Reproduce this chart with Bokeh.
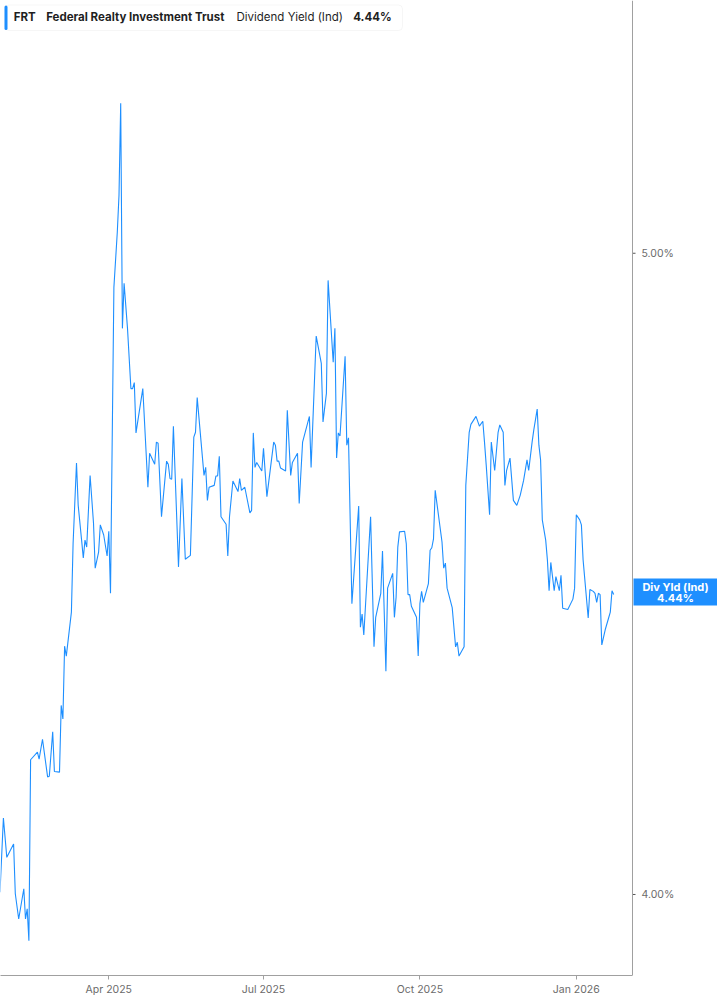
from datetime import datetime
import pandas as pd
from bokeh.plotting import figure
from bokeh.models import Range1d, FixedTicker, Label, BoxAnnotation, ColumnDataSource, Span
from bokeh.core.properties import value
from bokeh.embed import file_html
from bokeh.resources import INLINE

# ---- data ----
dates = [
    "2025-01-27", "2025-01-29", "2025-01-31", "2025-02-04", "2025-02-05", "2025-02-07", "2025-02-10",
    "2025-02-11", "2025-02-12", "2025-02-13", "2025-02-14", "2025-02-18", "2025-02-19", "2025-02-21",
    "2025-02-24", "2025-02-25", "2025-02-27", "2025-02-28", "2025-03-03", "2025-03-04", "2025-03-05",
    "2025-03-06", "2025-03-07", "2025-03-10", "2025-03-11", "2025-03-13", "2025-03-14", "2025-03-16",
    "2025-03-17", "2025-03-18", "2025-03-19", "2025-03-21", "2025-03-23", "2025-03-24", "2025-03-26",
    "2025-03-27", "2025-03-29", "2025-03-31", "2025-04-01", "2025-04-02", "2025-04-04", "2025-04-06",
    "2025-04-07", "2025-04-08", "2025-04-09", "2025-04-10", "2025-04-12", "2025-04-14", "2025-04-15",
    "2025-04-16", "2025-04-17", "2025-04-21", "2025-04-24", "2025-04-25", "2025-04-28", "2025-04-29",
    "2025-04-30", "2025-05-02", "2025-05-05", "2025-05-06", "2025-05-07", "2025-05-08", "2025-05-09",
    "2025-05-12", "2025-05-14", "2025-05-16", "2025-05-19", "2025-05-21", "2025-05-22", "2025-05-23",
    "2025-05-27", "2025-05-28", "2025-05-29", "2025-05-30", "2025-06-02", "2025-06-03", "2025-06-04",
    "2025-06-05", "2025-06-06", "2025-06-09", "2025-06-10", "2025-06-11", "2025-06-13", "2025-06-16",
    "2025-06-17", "2025-06-18", "2025-06-20", "2025-06-23", "2025-06-24", "2025-06-25", "2025-06-26",
    "2025-06-27", "2025-06-30", "2025-07-01", "2025-07-03", "2025-07-07", "2025-07-08", "2025-07-09",
    "2025-07-10", "2025-07-11", "2025-07-14", "2025-07-15", "2025-07-17", "2025-07-18", "2025-07-21",
    "2025-07-22", "2025-07-24", "2025-07-28", "2025-07-29", "2025-08-01", "2025-08-04", "2025-08-05",
    "2025-08-07", "2025-08-08", "2025-08-11", "2025-08-12", "2025-08-13", "2025-08-14", "2025-08-15",
    "2025-08-18", "2025-08-19", "2025-08-20", "2025-08-22", "2025-08-26", "2025-08-27", "2025-08-28",
    "2025-08-29", "2025-09-02", "2025-09-04", "2025-09-05", "2025-09-08", "2025-09-09", "2025-09-11",
    "2025-09-12", "2025-09-15", "2025-09-16", "2025-09-17", "2025-09-18", "2025-09-19", "2025-09-22",
    "2025-09-23", "2025-09-24", "2025-09-25", "2025-09-26", "2025-09-29", "2025-09-30", "2025-10-01",
    "2025-10-02", "2025-10-03", "2025-10-06", "2025-10-07", "2025-10-08", "2025-10-09", "2025-10-10",
    "2025-10-14", "2025-10-15", "2025-10-16", "2025-10-17", "2025-10-20", "2025-10-22", "2025-10-23",
    "2025-10-24", "2025-10-27", "2025-10-28", "2025-10-30", "2025-10-31", "2025-11-03", "2025-11-05",
    "2025-11-07", "2025-11-08", "2025-11-09", "2025-11-11", "2025-11-12", "2025-11-14", "2025-11-16",
    "2025-11-17", "2025-11-19", "2025-11-20", "2025-11-21", "2025-11-23", "2025-11-25", "2025-11-27",
    "2025-11-29", "2025-12-01", "2025-12-03", "2025-12-04", "2025-12-06", "2025-12-07", "2025-12-09",
    "2025-12-10", "2025-12-11", "2025-12-12", "2025-12-14", "2025-12-15", "2025-12-16", "2025-12-17",
    "2025-12-19", "2025-12-20", "2025-12-22", "2025-12-23", "2025-12-24", "2025-12-27", "2025-12-30",
    "2025-12-31", "2026-01-01", "2026-01-03", "2026-01-04", "2026-01-05", "2026-01-08", "2026-01-09",
    "2026-01-11", "2026-01-12", "2026-01-13", "2026-01-14", "2026-01-15", "2026-01-16", "2026-01-18",
    "2026-01-20", "2026-01-21", "2026-01-22", "2026-01-23",
]
yields = [
    4.003, 4.108, 4.052, 4.071, 4.001, 3.966, 4.008,
    3.966, 3.980, 3.936, 4.192, 4.203, 4.193, 4.222,
    4.167, 4.168, 4.233, 4.175, 4.174, 4.272, 4.252,
    4.361, 4.346, 4.413, 4.520, 4.648, 4.580, 4.525,
    4.497, 4.525, 4.514, 4.628, 4.552, 4.481, 4.506,
    4.549, 4.533, 4.500, 4.539, 4.442, 4.941, 5.037,
    5.102, 5.268, 4.871, 4.948, 4.871, 4.770, 4.770,
    4.780, 4.697, 4.770, 4.609, 4.664, 4.646, 4.682,
    4.680, 4.562, 4.651, 4.646, 4.623, 4.622, 4.708,
    4.483, 4.623, 4.495, 4.501, 4.690, 4.698, 4.755,
    4.628, 4.641, 4.588, 4.609, 4.612, 4.627, 4.627,
    4.659, 4.562, 4.550, 4.500, 4.562, 4.619, 4.602,
    4.623, 4.604, 4.609, 4.568, 4.572, 4.697, 4.641,
    4.649, 4.635, 4.672, 4.594, 4.682, 4.677, 4.651,
    4.651, 4.640, 4.635, 4.734, 4.628, 4.649, 4.664,
    4.583, 4.682, 4.724, 4.641, 4.858, 4.812, 4.715,
    4.762, 4.953, 4.814, 4.871, 4.656, 4.697, 4.692,
    4.824, 4.677, 4.689, 4.426, 4.579, 4.390, 4.410,
    4.378, 4.562, 4.360, 4.405, 4.442, 4.508, 4.323,
    4.450, 4.473, 4.405, 4.436, 4.514, 4.538, 4.539,
    4.519, 4.440, 4.440, 4.422, 4.405, 4.346, 4.426,
    4.445, 4.428, 4.457, 4.509, 4.513, 4.527, 4.604,
    4.522, 4.481, 4.489, 4.450, 4.420, 4.360, 4.367,
    4.346, 4.360, 4.612, 4.698, 4.711, 4.724, 4.708,
    4.716, 4.682, 4.645, 4.565, 4.682, 4.636, 4.698,
    4.710, 4.698, 4.612, 4.636, 4.656, 4.588, 4.580,
    4.596, 4.620, 4.653, 4.636, 4.682, 4.702, 4.736,
    4.677, 4.653, 4.557, 4.525, 4.494, 4.446, 4.490,
    4.446, 4.468, 4.446, 4.470, 4.419, 4.417, 4.433,
    4.450, 4.565, 4.557, 4.549, 4.494, 4.404, 4.448,
    4.445, 4.442, 4.428, 4.442, 4.440, 4.363, 4.386,
    4.404, 4.413, 4.446, 4.440,
]
tick_dates = ["2025-04-01", "2025-07-01", "2025-10-01", "2026-01-01"]
tick_labels = ["Apr 2025", "Jul 2025", "Oct 2025", "Jan 2026"]
y_ticks = [4.0, 5.0]
y_tick_labels = ["4.00%", "5.00%"]
symbol = "FRT"
company = "Federal Realty Investment Trust"
metric = "Dividend Yield (Ind)"
badge_title = "Div Yld (Ind)"
last_value = 4.44

BLUE = "#1e8fff"
FONT = "Inter"
AXIS_GREY = "#a0a0a0"
TEXT_GREY = "#6b6b6b"


def ms(ts):
    return pd.Timestamp(ts).value / 1e6


src = ColumnDataSource(dict(date=pd.to_datetime(dates), y=yields))

W, H = 717, 1005
BOTTOM = 30
FH = H - BOTTOM
x_start = datetime(2025, 1, 27, 7, 3)
x_end = datetime(2026, 3, 25, 1, 26)
axis_x = ms(datetime(2026, 2, 3, 1, 26))   # where the value scale sits

p = figure(
    width=W, height=H,
    x_axis_type="datetime", y_axis_type="log", y_axis_location=None,
    x_range=Range1d(x_start, x_end),
    y_range=Range1d(3.8888, 5.4597),
    output_backend="svg", toolbar_location=None,
    min_border_left=0, min_border_top=0, min_border_right=0, min_border_bottom=BOTTOM,
)
p.outline_line_color = None
for g in p.grid:
    g.grid_line_color = None
p.background_fill_color = "white"
p.border_fill_color = "white"

p.line("date", "y", source=src, line_color=BLUE, line_width=1.1)

# x axis (below)
tick_ms = [int(pd.Timestamp(d).value // 10**6) for d in tick_dates]
xa = p.xaxis[0]
xa.ticker = FixedTicker(ticks=tick_ms)
xa.major_label_overrides = {t: l for t, l in zip(tick_ms, tick_labels)}
xa.bounds = (ms(x_start), axis_x)
xa.axis_line_color = AXIS_GREY
xa.major_tick_line_color = AXIS_GREY
xa.major_tick_out = 4
xa.major_tick_in = 0
xa.minor_tick_line_color = None
xa.major_label_text_color = TEXT_GREY
xa.major_label_text_font = FONT
xa.major_label_text_font_size = "10.5px"
xa.major_label_standoff = 3

# value scale on the right of the line
p.add_layout(Span(location=axis_x, dimension="height", line_color=AXIS_GREY, line_width=1))
p.ray(x=[axis_x] * len(y_ticks), y=y_ticks, length=3, length_units="screen", angle=0,
      line_color="#555555", line_width=1)
ylab_src = ColumnDataSource(dict(x=[axis_x] * len(y_ticks), y=y_ticks, t=y_tick_labels))
p.text(x="x", y="y", text="t", source=ylab_src, x_offset=9, text_baseline="middle", text_align="left",
       text_font=value(FONT), text_font_size="10.5px", text_color=TEXT_GREY)


def sy(win_y):
    return FH - win_y


scr = dict(left_units="screen", right_units="screen", top_units="screen", bottom_units="screen")

# header legend box
p.add_layout(BoxAnnotation(left=4.5, right=402, top=sy(4.5), bottom=sy(30), fill_color="white", fill_alpha=1,
                           line_color="#e2e2e2", line_width=1, border_radius=4, **scr))
p.add_layout(BoxAnnotation(left=4, right=7, top=sy(5), bottom=sy(29.5), fill_color=BLUE, fill_alpha=1,
                           line_color=None, border_radius=2, **scr))
for txt, x, style in [(symbol, 13.3, "bold"), (company, 45.7, "bold"), (metric, 236, "normal"),
                      (f"{last_value:.2f}%", 352.7, "bold")]:
    p.add_layout(Label(x=x, y=sy(16.5), x_units="screen", y_units="screen", text=txt,
                       text_align="left", text_baseline="middle", text_font=FONT,
                       text_font_size="11.5px", text_font_style=style, text_color="#1f1f1f"))

# right badge
p.add_layout(BoxAnnotation(left=633, right=717, top=sy(578), bottom=sy(605), fill_color=BLUE, fill_alpha=1,
                           line_color=None, **scr))
p.add_layout(Label(x=675, y=sy(586.5), x_units="screen", y_units="screen", text=badge_title,
                   text_align="center", text_baseline="middle", text_font=FONT,
                   text_font_size="11px", text_font_style="bold", text_color="white"))
p.add_layout(Label(x=675, y=sy(597.5), x_units="screen", y_units="screen", text=f"{last_value:.2f}%",
                   text_align="center", text_baseline="middle", text_font=FONT,
                   text_font_size="11px", text_font_style="bold", text_color="white"))

open("out.html", "w").write(file_html(p, INLINE))
